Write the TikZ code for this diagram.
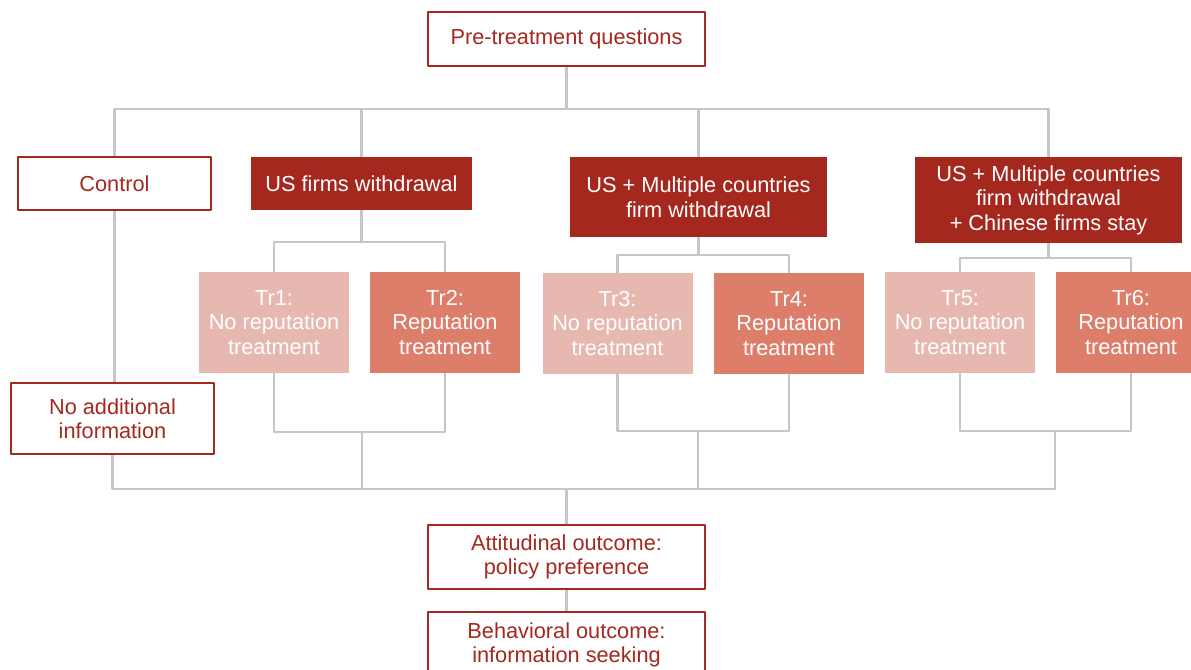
\documentclass[tikz,border=0pt]{standalone}
\usepackage{fontspec}
\setmainfont{Liberation Sans}
\definecolor{darkred}{HTML}{A5281F}
\definecolor{palered}{HTML}{E6B8AF}
\definecolor{midred}{HTML}{DD7E6B}
\definecolor{linkgrey}{HTML}{C6C6C6}
\def\px{0.75pt}
\tikzset{
  box/.style={draw=darkred,line width=1.6pt,fill=white,text=darkred,align=center,inner sep=0pt},
  armbox/.style={fill=darkred,text=white,align=center,inner sep=0pt},
  notr/.style={fill=palered,text=white,align=center,inner sep=0pt,minimum width=150*\px,minimum height=101*\px},
  reptr/.style={fill=midred,text=white,align=center,inner sep=0pt,minimum width=150*\px,minimum height=101*\px},
  link/.style={draw=linkgrey,line width=2pt}
}
\begin{document}
\begin{tikzpicture}[x=\px,y=-\px,font=\fontsize{16.3}{18.4}\selectfont, line join=round]
  \useasboundingbox (0,0) rectangle (1191,670);
  \fill[white] (0,0) rectangle (1191,670);
  % buses
  \coordinate (top) at (566.5,109);
  \coordinate (bot) at (566.5,489);
  \coordinate (s1) at (362,242); \coordinate (s2) at (698,255); \coordinate (s3) at (1048,258);
  \coordinate (j1) at (362,432); \coordinate (j2) at (698,431); \coordinate (j3) at (1055,431);
  % boxes
  \node[box,minimum width=277*\px,minimum height=54*\px] (pre) at (566.5,39) {Pre-treatment questions};
  \node[box,minimum width=193*\px,minimum height=53*\px] (ctrl) at (114.5,183.5) {Control};
  \node[armbox,minimum width=221*\px,minimum height=53*\px] (usf) at (361.5,183.5) {US firms withdrawal};
  \node[armbox,minimum width=257*\px,minimum height=80*\px] (usm) at (698.5,197) {US + Multiple countries\\firm withdrawal};
  \node[armbox,minimum width=267*\px,minimum height=86*\px] (usc) at (1048.5,200) {US + Multiple countries\\firm withdrawal\\+ Chinese firms stay};
  \node[notr] (tr1) at (274,322.5) {Tr1:\\No reputation\\treatment};
  \node[reptr] (tr2) at (445,322.5) {Tr2:\\Reputation\\treatment};
  \node[notr] (tr3) at (617.5,323.5) {Tr3:\\No reputation\\treatment};
  \node[reptr] (tr4) at (789,323.5) {Tr4:\\Reputation\\treatment};
  \node[notr] (tr5) at (960,322.5) {Tr5:\\No reputation\\treatment};
  \node[reptr] (tr6) at (1131,322.5) {Tr6:\\Reputation\\treatment};
  \node[box,minimum width=203*\px,minimum height=71*\px] (noadd) at (112.5,418.5) {No additional\\information};
  \node[box,minimum width=277*\px,minimum height=64*\px] (att) at (566.5,557) {Attitudinal outcome:\\policy preference};
  \node[box,minimum width=277*\px,minimum height=66*\px] (beh) at (566.5,645) {Behavioral outcome:\\information seeking};
  % connectors
  \draw[link] (pre) -- (top);
  \draw[link] (ctrl.north) -- (ctrl.north |- top) -- (usc.north |- top) -- (usc.north);
  \draw[link] (usf.north) -- (usf.north |- top);
  \draw[link] (usm.north) -- (usm.north |- top);
  \draw[link] (ctrl.south) -- (noadd.north -| ctrl.south);
  \foreach \p/\a/\b/\s/\j in {usf/tr1/tr2/s1/j1, usm/tr3/tr4/s2/j2, usc/tr5/tr6/s3/j3} {
    \draw[link] (\p.south) -- (\p.south |- \s);
    \draw[link] (\a.north) |- (\p.south |- \s) -| (\b.north);
    \draw[link] (\a.south) |- (\j) -| (\b.south);
    \draw[link] (\j) -- (\j |- bot);
  }
  \draw[link] (noadd.south) |- (bot) -| (j3);
  \draw[link] (bot) -- (att);
  \draw[link] (att) -- (beh);
\end{tikzpicture}
\end{document}
